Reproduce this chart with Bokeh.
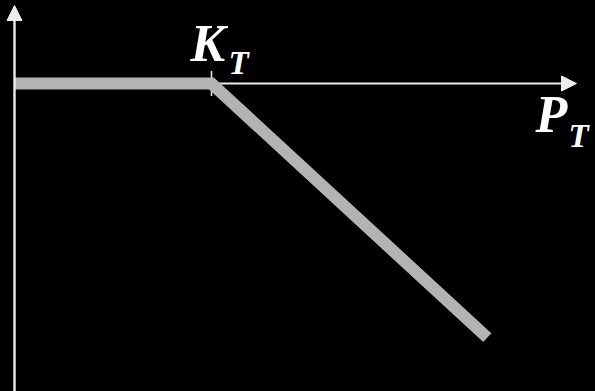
from bokeh.plotting import figure
from bokeh.models import Range1d, Arrow, NormalHead, Label
from bokeh.embed import file_html
from bokeh.resources import INLINE

# ---- data: payoff profile against terminal price P_T, kink at strike K_T ----
price = [0, 100, 240]
payoff = [0, 0, -129]
strike = 100
x_name, x_sub = "P", "T"
k_name, k_sub = "K", "T"

# ---- layout / style ----
W, H = 595, 391
sx = 1.97            # pixels per data unit (both axes)
ox, oy = 14, 83      # pixel position of the origin in the picture
x0, x1 = -ox / sx, (W - ox) / sx
y0, y1 = -(H - oy) / sx, oy / sx
x_tip = (576 - ox) / sx
y_tip = (oy - 5) / sx
tick_half = 12.5 / sx

AX = "#ededed"
LINE = "#b3b3b3"
FONT = "Liberation Serif"
BASE_FIX = 0.38      # baseline correction, fraction of font size

p = figure(width=W, height=H, x_range=Range1d(x0, x1), y_range=Range1d(y0, y1),
           output_backend="svg", toolbar_location=None,
           x_axis_location=None, y_axis_location=None, min_border=0)
p.background_fill_color = "black"
p.border_fill_color = "black"
p.outline_line_color = None
p.grid.visible = False

# horizontal axis (price) with arrow, below the payoff line
p.add_layout(Arrow(end=NormalHead(size=15, fill_color=AX, line_color=AX, line_width=1),
                   x_start=0, y_start=0, x_end=x_tip, y_end=0,
                   line_color=AX, line_width=2, level="underlay"))
# tick at the strike
p.segment(x0=[strike], y0=[tick_half], x1=[strike], y1=[-tick_half],
          line_color=AX, line_width=1.5)

# payoff line
p.line(price, payoff, line_color=LINE, line_width=12, line_join="miter", line_cap="butt")

# vertical axis with arrow
p.add_layout(Arrow(end=NormalHead(size=15, fill_color=AX, line_color=AX, line_width=1),
                   x_start=0, y_start=y0, x_end=0, y_end=y_tip,
                   line_color=AX, line_width=2.4))

def lab(x, y, t, size, xo, yo):
    p.add_layout(Label(x=x, y=y, text=t, x_offset=xo, y_offset=yo + BASE_FIX * size,
                       text_font=FONT, text_font_size=f"{size}px",
                       text_font_style="bold italic", text_color="white",
                       text_baseline="alphabetic", text_align="left"))

lab(strike, 0, k_name, 52, 190 - (ox + strike * sx), oy - 63)
lab(strike, 0, k_sub, 33, 228 - (ox + strike * sx), oy - 75)
lab(x_tip, 0, x_name, 52, 535 - 576, oy - 134)
lab(x_tip, 0, x_sub, 33, 568 - 576, oy - 148)

html = file_html(p, INLINE)
html = html.replace("</head>", "<style>html,body{margin:0;padding:0;background:#000;overflow:hidden}</style></head>", 1)
open("out.html", "w").write(html)
